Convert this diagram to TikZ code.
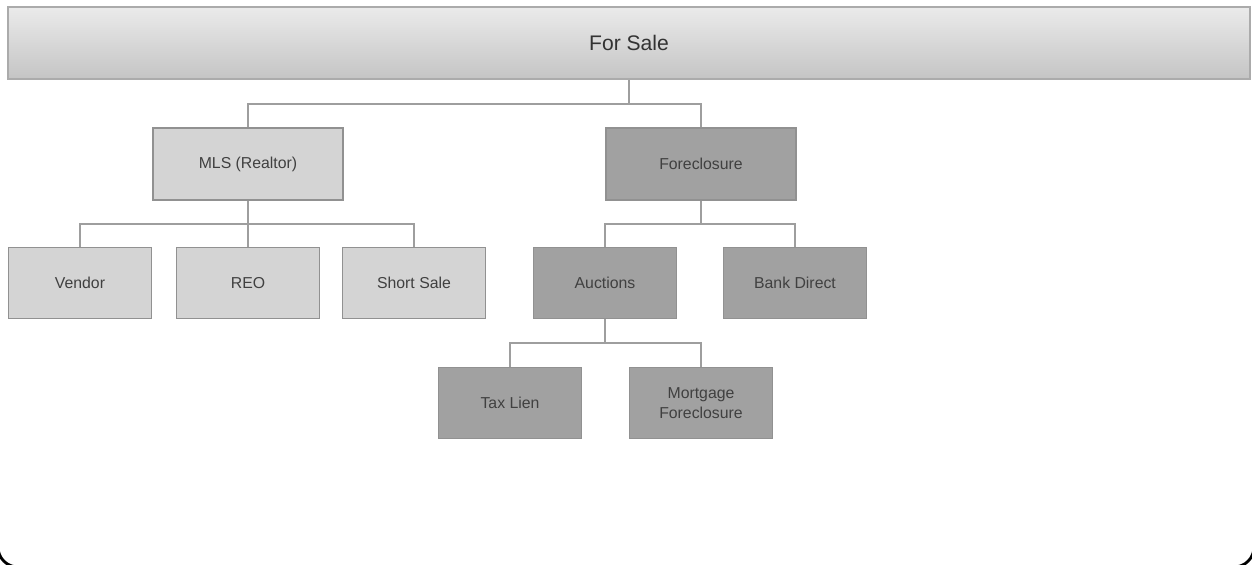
\documentclass[tikz,border=0pt]{standalone}
\usepackage{fontspec}
\setmainfont{Liberation Sans}
\usetikzlibrary{positioning}

\begin{document}
\begin{tikzpicture}[
    x=0.02cm, y=-0.02cm,
    font=\fontsize{9}{11}\selectfont,
    line width=0.6pt,
    topbar/.style={draw=black!33, line width=1pt, top color=black!8, bottom color=black!23, text=black!80, font=\fontsize{12}{14}\selectfont, minimum width=24.84cm, minimum height=1.44cm, inner sep=0pt},
    lightbox/.style={draw=black!43, fill=black!17, text=black!75, minimum width=2.86cm, minimum height=1.42cm, align=center, inner sep=0pt},
    darkbox/.style={lightbox, fill=black!37},
    widebox/.style={minimum width=3.8cm, minimum height=1.44cm},
    link/.style={draw=black!38, line width=0.8pt}
]
\useasboundingbox (0,0) rectangle (1252,565);

% outer frame, only its lower corners show
\begin{scope}
  \clip (0,0) rectangle (1252,565);
  \draw[line width=1.6pt, rounded corners=0.4cm] (-2,-60) rectangle (1254,567);
\end{scope}

\node[topbar] (forsale) at (629,43) {For Sale};

\node[lightbox, widebox] (mls) at (248,164) {MLS (Realtor)};
\node[darkbox, widebox] (foreclosure) at (701,164) {Foreclosure};

\node[lightbox] (vendor) at (80,283) {Vendor};
\node[lightbox] (reo) at (248,283) {REO};
\node[lightbox] (shortsale) at (414,283) {Short Sale};
\node[darkbox] (auctions) at (605,283) {Auctions};
\node[darkbox] (bankdirect) at (795,283) {Bank Direct};

\node[darkbox] (taxlien) at (510,403) {Tax Lien};
\node[darkbox] (mortgage) at (701,403) {Mortgage\\Foreclosure};

\coordinate (topbus) at (629,104);
\coordinate (mlsbus) at (248,224);
\coordinate (forebus) at (701,224);
\coordinate (auctbus) at (605,343);

\draw[link] (forsale) -- (topbus);
\draw[link] (topbus) -| (mls);
\draw[link] (topbus) -| (foreclosure);

\draw[link] (mls) -- (mlsbus);
\draw[link] (mlsbus) -| (vendor);
\draw[link] (mlsbus) -- (reo);
\draw[link] (mlsbus) -| (shortsale);

\draw[link] (foreclosure) -- (forebus);
\draw[link] (forebus) -| (auctions);
\draw[link] (forebus) -| (bankdirect);

\draw[link] (auctions) -- (auctbus);
\draw[link] (auctbus) -| (taxlien);
\draw[link] (auctbus) -| (mortgage);
\end{tikzpicture}
\end{document}
